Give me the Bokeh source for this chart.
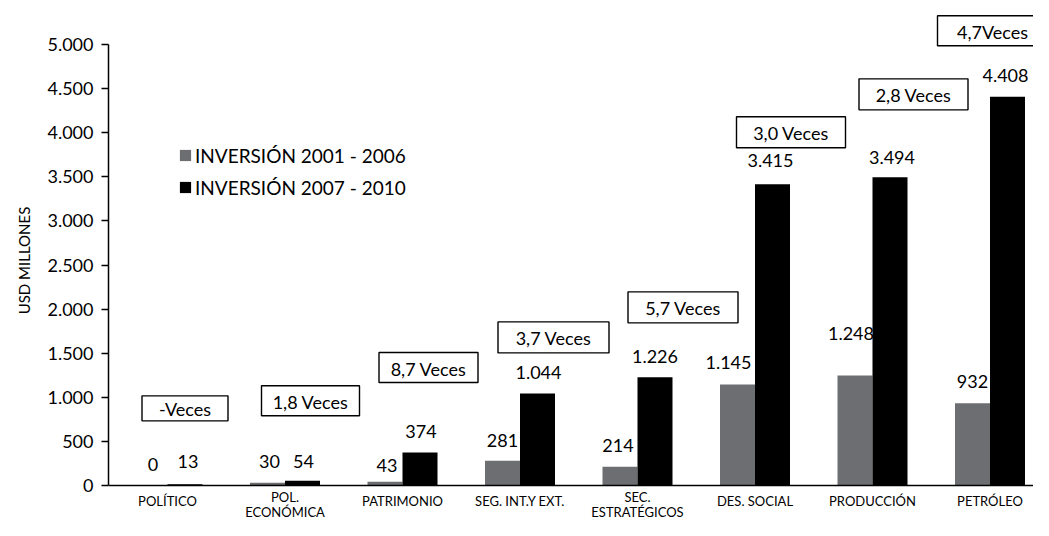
from bokeh.plotting import figure
from bokeh.models import ColumnDataSource, Range1d, FixedTicker, Span, Legend, LegendItem
from bokeh.core.properties import value
from bokeh.embed import file_html
from bokeh.resources import INLINE

# ---------------- data ----------------
categories = ["POLÍTICO", "POL.\nECONÓMICA", "PATRIMONIO", "SEG. INT.Y EXT.",
              "SEC.\nESTRATÉGICOS", "DES. SOCIAL", "PRODUCCIÓN", "PETRÓLEO"]
inv_2001_2006 = [0, 30, 43, 281, 214, 1145, 1248, 932]
inv_2007_2010 = [13, 54, 374, 1044, 1226, 3415, 3494, 4408]
ratio_labels = ["-Veces", "1,8 Veces", "8,7 Veces", "3,7 Veces",
                "5,7 Veces", "3,0 Veces", "2,8 Veces", "4,7Veces"]
series_names = ["INVERSIÓN 2001 - 2006", "INVERSIÓN 2007 - 2010"]
y_ticks = [0, 500, 1000, 1500, 2000, 2500, 3000, 3500, 4000, 4500, 5000]
y_tick_labels = ["0", "500", "1.000", "1.500", "2.000", "2.500",
                 "3.000", "3.500", "4.000", "4.500", "5.000"]
y_title = "USD MILLONES"

# ---------------- layout / style ----------------
FONT = "Lato"
GRAY = "#6d6e71"
W, H = 1033, 520
BORDER_L = 108
FRAME_W = W - BORDER_L
Y0_PX, YTOP_PX = 485, 44          # px from frame top for 0 and 5000
PPU = (Y0_PX - YTOP_PX) / 5000.0
CAT_PX = 117.5
FIRST_PX = 59.0
BAR_W = 35.0 / CAT_PX
HALF = BAR_W / 2

y_start = -(H - Y0_PX) / PPU
y_end = 5000 + YTOP_PX / PPU
x_start = -FIRST_PX / CAT_PX
x_end = (FRAME_W - FIRST_PX) / CAT_PX


def dxp(px):
    return px / CAT_PX


def dyp(px):
    return px / PPU


def fmt(v):
    return f"{v:,}".replace(",", ".")


n = len(categories)
idx = list(range(n))

# per-label manual nudges (screen px), as in the original artwork
gray_lab_dx = [3, 2, 2, 0, -2, -9, -4, 0]
gray_lab_dy = [21, 21, 16, 20, 21, 22, 42, 22]
black_lab_dx = [3, 1, 1, 1, 0, -2, 2, -2]
black_lab_dy = [23, 19, 21, 21, 21, 24, 20, 21]
box_dx = [0, 8, 8.5, 16, 28, 18.5, 23.5, -15]
box_dy = [76, 80, 85, 56, 70, 52, 83, 66]
box_w = [86, 98, 99, 111, 110, 109, 109, 110]
box_h = [25, 30, 30, 31, 31, 31, 31, 30]
cat_dy = [15 if "\n" not in c else 19 for c in categories]

p = figure(width=W, height=H, output_backend="svg", toolbar_location=None,
           x_range=Range1d(x_start, x_end), y_range=Range1d(y_start, y_end),
           x_axis_location=None, min_border_left=BORDER_L, min_border_right=0,
           min_border_top=0, min_border_bottom=0)
p.outline_line_color = None
p.xgrid.visible = False
p.ygrid.visible = False
p.background_fill_color = "white"
p.border_fill_color = "white"

src = ColumnDataSource(dict(
    xg=[i - HALF for i in idx], xb=[i + HALF for i in idx],
    g=inv_2001_2006, b=inv_2007_2010,
))
rg = p.vbar(x="xg", top="g", bottom=0, width=BAR_W, source=src,
            fill_color=GRAY, line_color=None)
rb = p.vbar(x="xb", top="b", bottom=0, width=BAR_W, source=src,
            fill_color="black", line_color=None)

# baseline
p.add_layout(Span(location=0, dimension="width", line_color="black", line_width=1.6))

# value labels
lab = ColumnDataSource(dict(
    x=[i - HALF + dxp(d) for i, d in zip(idx, gray_lab_dx)] +
      [i + HALF + dxp(d) for i, d in zip(idx, black_lab_dx)],
    y=[v + dyp(d) for v, d in zip(inv_2001_2006, gray_lab_dy)] +
      [v + dyp(d) for v, d in zip(inv_2007_2010, black_lab_dy)],
    t=[fmt(v) for v in inv_2001_2006] + [fmt(v) for v in inv_2007_2010],
))
p.text(x="x", y="y", text="t", source=lab, text_font=value(FONT),
       text_font_size="18px", text_align="center", text_baseline="middle",
       text_color="black")

# ratio boxes
bx = ColumnDataSource(dict(
    x=[i + HALF + dxp(d) for i, d in zip(idx, box_dx)],
    y=[v + dyp(d) for v, d in zip(inv_2007_2010, box_dy)],
    w=box_w, h=box_h, t=ratio_labels,
))
p.rect(x="x", y="y", width="w", height="h", width_units="screen",
       height_units="screen", source=bx, fill_color="white",
       line_color="black", line_width=1.4)
p.text(x="x", y="y", text="t", source=bx, text_font=value(FONT),
       text_font_size="18px", text_align="center", text_baseline="middle",
       text_color="black", y_offset=1)

# category labels
cs = ColumnDataSource(dict(
    x=idx, y=[-dyp(d) for d in cat_dy], t=categories,
))
p.text(x="x", y="y", text="t", source=cs, text_font=value(FONT),
       text_font_size="13px", text_align="center", text_baseline="middle",
       text_color="black", text_line_height=0.92)

# y axis
ax = p.yaxis[0]
ax.ticker = FixedTicker(ticks=y_ticks)
ax.major_label_overrides = {t: l for t, l in zip(y_ticks, y_tick_labels)}
ax.bounds = (0, 5000)
ax.axis_line_color = "black"
ax.axis_line_width = 1.5
ax.major_tick_line_color = "black"
ax.major_tick_line_width = 1.3
ax.major_tick_out = 7
ax.major_tick_in = 0
ax.minor_tick_line_color = None
ax.major_label_text_font = FONT
ax.major_label_text_font_size = "18px"
ax.major_label_text_color = "black"
ax.major_label_standoff = 8
ax.axis_label = y_title
ax.axis_label_text_font = FONT
ax.axis_label_text_font_size = "15px"
ax.axis_label_text_font_style = "normal"
ax.axis_label_text_color = "black"
ax.axis_label_standoff = 11

legend = Legend(items=[LegendItem(label=series_names[0], renderers=[rg]),
                       LegendItem(label=series_names[1], renderers=[rb])],
                location=(70, 321), orientation="vertical",
                glyph_width=14, glyph_height=14, label_standoff=3,
                label_height=24, spacing=8, padding=0, margin=0,
                border_line_color=None, background_fill_alpha=0,
                label_text_font=FONT, label_text_font_size="19px",
                label_text_color="black")
p.add_layout(legend)

open("out.html", "w").write(file_html(p, INLINE))
